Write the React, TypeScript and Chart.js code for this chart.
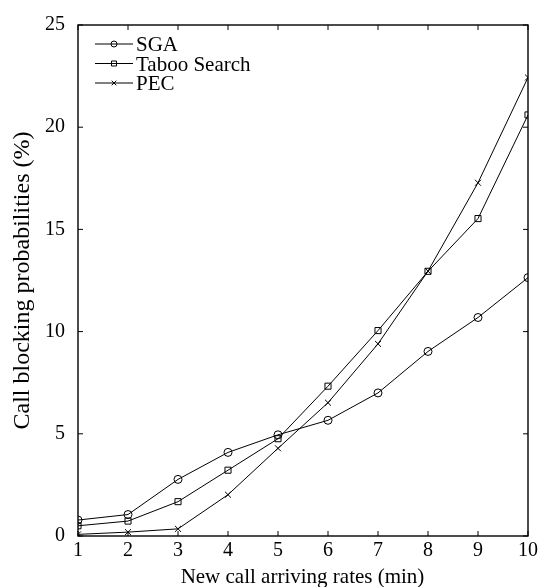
import React, { useEffect, useRef } from "react";
import { Chart, registerables } from "chart.js";

Chart.register(...registerables);

const rates = [1, 2, 3, 4, 5, 6, 7, 8, 9, 10];
const sga = [0.78, 1.05, 2.77, 4.09, 4.95, 5.66, 7.0, 9.03, 10.69, 12.64];
const taboo = [0.5, 0.73, 1.68, 3.22, 4.76, 7.33, 10.05, 12.95, 15.53, 20.6];
const pec = [0.08, 0.19, 0.35, 2.02, 4.29, 6.52, 9.4, 12.96, 17.28, 22.43];
const yTickValues = [0, 5, 10, 15, 20, 25];
const seriesNames = ["SGA", "Taboo Search", "PEC"];
const pointStyles = ["circle", "rect", "crossRot"];
const pointRadii = [4, 4.3, 4.2];
const xTitle = "New call arriving rates (min)";
const yTitle = "Call blocking probabilities (%)";

const FONT = "'Liberation Serif', 'Times New Roman', serif";

const framePlugin = {
  id: "frameTicks",
  afterDatasetsDraw(chart: any) {
    const { ctx, chartArea, scales } = chart;
    const { left, right, top, bottom } = chartArea;
    ctx.save();
    ctx.strokeStyle = "#000";
    ctx.lineWidth = 1.4;
    ctx.strokeRect(left, top, right - left, bottom - top);
    const tl = 5;
    ctx.lineWidth = 1;
    ctx.beginPath();
    rates.forEach((v) => {
      const x = scales.x.getPixelForValue(v);
      ctx.moveTo(x, bottom);
      ctx.lineTo(x, bottom - tl);
      ctx.moveTo(x, top);
      ctx.lineTo(x, top + tl);
    });
    yTickValues.forEach((v) => {
      const y = scales.y.getPixelForValue(v);
      ctx.moveTo(left, y);
      ctx.lineTo(left + tl, y);
      ctx.moveTo(right, y);
      ctx.lineTo(right - tl, y);
    });
    ctx.stroke();

    // legend
    const lx0 = left + 17;
    const lx1 = left + 55;
    const mx = (lx0 + lx1) / 2;
    const tx = lx1 + 3;
    const y0 = top + 19;
    const dy = 19.5;
    ctx.font = `21px ${FONT}`;
    ctx.fillStyle = "#000";
    ctx.textBaseline = "alphabetic";
    ctx.textAlign = "left";
    seriesNames.forEach((name, i) => {
      const y = y0 + i * dy;
      ctx.lineWidth = 1;
      ctx.beginPath();
      ctx.moveTo(lx0, y);
      ctx.lineTo(lx1, y);
      ctx.stroke();
      ctx.beginPath();
      if (i === 0) {
        ctx.arc(mx, y, 3, 0, Math.PI * 2);
      } else if (i === 1) {
        ctx.rect(mx - 2.5, y - 2.5, 5, 5);
      } else {
        ctx.moveTo(mx - 2.3, y - 2.3);
        ctx.lineTo(mx + 2.3, y + 2.3);
        ctx.moveTo(mx + 2.3, y - 2.3);
        ctx.lineTo(mx - 2.3, y + 2.3);
      }
      ctx.stroke();
      ctx.fillText(name, tx, y + 7);
    });

    // axis titles
    ctx.textAlign = "center";
    ctx.textBaseline = "alphabetic";
    ctx.font = `21px ${FONT}`;
    ctx.fillText(xTitle, (left + right) / 2 - 0.5, 583);
    ctx.save();
    ctx.translate(29, (top + bottom) / 2);
    ctx.rotate(-Math.PI / 2);
    ctx.font = `24px ${FONT}`;
    ctx.fillText(yTitle, 0, 0);
    ctx.restore();
    ctx.restore();
  },
};

export default function App() {
  const canvasRef = useRef<HTMLCanvasElement | null>(null);

  useEffect(() => {
    const canvas = canvasRef.current;
    if (!canvas) return;
    const series = [sga, taboo, pec];
    const chart = new Chart(canvas, {
      type: "line",
      data: {
        datasets: series.map((s, i) => ({
          label: seriesNames[i],
          data: rates.map((r, j) => ({ x: r, y: s[j] })),
          borderColor: "#000",
          borderWidth: 1,
          backgroundColor: "rgba(0,0,0,0)",
          pointStyle: pointStyles[i] as any,
          pointRadius: pointRadii[i],
          pointBorderColor: "#000",
          pointBackgroundColor: "rgba(0,0,0,0)",
          pointBorderWidth: 1,
          tension: 0,
          fill: false,
        })),
      },
      options: {
        responsive: false,
        animation: false,
        layout: { padding: { left: 0, right: 14, top: 21, bottom: 0 } },
        plugins: {
          legend: { display: false },
          tooltip: { enabled: false },
        },
        scales: {
          x: {
            type: "linear",
            min: 1,
            max: 10,
            grid: { display: false, drawTicks: false },
            border: { display: false },
            ticks: {
              stepSize: 1,
              padding: 3,
              color: "#000",
              font: { family: FONT, size: 20 },
              maxRotation: 0,
            },
            afterFit(scale: any) {
              scale.height = 51;
            },
          },
          y: {
            type: "linear",
            min: 0,
            max: 25,
            grid: { display: false, drawTicks: false },
            border: { display: false },
            ticks: {
              stepSize: 5,
              padding: 13,
              color: "#000",
              font: { family: FONT, size: 20 },
            },
            afterFit(scale: any) {
              scale.width = 78;
            },
          },
        },
      },
      plugins: [framePlugin],
    });
    return () => chart.destroy();
  }, []);

  return (
    <div style={{ position: "absolute", left: 0, top: 0, width: 542, height: 587, background: "#fff" }}>
      <canvas ref={canvasRef} width={542} height={587} style={{ display: "block", width: 542, height: 587 }} />
    </div>
  );
}
